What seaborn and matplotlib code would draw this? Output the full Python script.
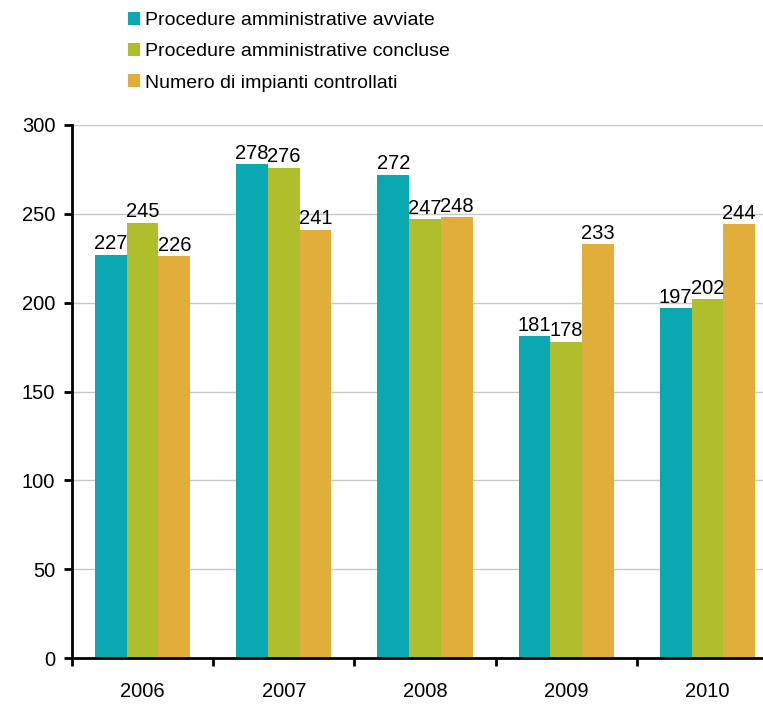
import matplotlib
matplotlib.use("Agg")
import matplotlib.pyplot as plt
import seaborn as sns
import pandas as pd
from matplotlib.patches import Patch

years = ["2006", "2007", "2008", "2009", "2010"]
series_names = ["Procedure amministrative avviate",
                "Procedure amministrative concluse",
                "Numero di impianti controllati"]
avviate = [227, 278, 272, 181, 197]
concluse = [245, 276, 247, 178, 202]
impianti = [226, 241, 248, 233, 244]
colors = ["#0AA8B1", "#AFBF2B", "#E2AE3B"]
y_ticks = [0, 50, 100, 150, 200, 250, 300]

rows = []
for name, vals in zip(series_names, [avviate, concluse, impianti]):
    for y, v in zip(years, vals):
        rows.append({"Anno": y, "Serie": name, "Valore": v})
df = pd.DataFrame(rows)

sns.set_theme(style="white")
plt.rcParams["font.family"] = ["Liberation Sans", "DejaVu Sans"]
plt.rcParams["text.color"] = "black"
plt.rcParams["xtick.color"] = "black"
plt.rcParams["ytick.color"] = "black"

fig = plt.figure(figsize=(7.63, 7.04), dpi=100)
ax = fig.add_axes([72/763, 46/704, (778-72)/763, 533/704])

sns.barplot(data=df, x="Anno", y="Valore", hue="Serie", order=years,
            hue_order=series_names, palette=colors, width=0.675,
            saturation=1, ax=ax, legend=False, errorbar=None,
            linewidth=0, edgecolor="none")

for c in ax.containers:
    ax.bar_label(c, labels=[f"{int(round(v))}" for v in c.datavalues],
                 fontsize=14.5, padding=1, color="black")

ax.set_ylim(0, 300)
ax.set_xlim(-0.5, 4.5)
ax.set_yticks(y_ticks)
ax.set_yticklabels([str(t) for t in y_ticks], fontsize=14.5)
ax.yaxis.grid(True, color="#C8C8C8", linewidth=1)
ax.set_axisbelow(True)
ax.set_xlabel("")
ax.set_ylabel("")

ax.set_xticks(range(len(years)))
ax.set_xticklabels(years, fontsize=14.5)
ax.set_xticks([i - 0.5 for i in range(len(years) + 1)], minor=True)
ax.tick_params(axis="x", which="major", length=0, pad=17)
ax.tick_params(axis="x", which="minor", length=6, width=2, color="black", direction="out", bottom=True)
ax.tick_params(axis="y", which="major", length=6, width=2, color="black", direction="out", left=True, pad=6)

for s in ["top", "right"]:
    ax.spines[s].set_visible(False)
for s in ["left", "bottom"]:
    ax.spines[s].set_color("black")
    ax.spines[s].set_linewidth(2)

handles = [Patch(facecolor=c, edgecolor="none") for c in colors]
fig.legend(handles, series_names, loc="upper left", bbox_to_anchor=(116/763, 1.0),
           frameon=False, fontsize=14, handlelength=0.65, handleheight=0.65,
           handletextpad=0.25, labelspacing=0.72, borderaxespad=0.2)

fig.savefig("out.png", dpi=100)
